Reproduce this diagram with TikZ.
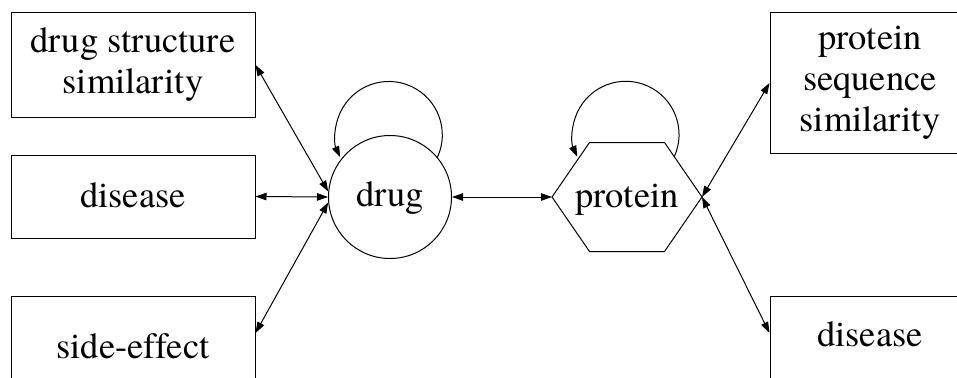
\documentclass[tikz,border=0pt]{standalone}
\usepackage{fontspec}
\newfontfamily\fa[Ligatures=NoCommon]{TeX Gyre Termes}
\usetikzlibrary{arrows.meta}
\begin{document}
\begin{tikzpicture}[x=1pt,y=-1pt,
  lw/.style={line width=1pt},
  txt/.style={font=\fa\fontsize{36.5}{41}\selectfont},
  box/.style={draw, lw, inner sep=0pt, align=center, txt},
  link/.style={lw, {Triangle[length=11pt,width=7.5pt]}-{Triangle[length=11pt,width=7.5pt]}},
  loopy/.style={lw, -{Triangle[length=11pt,width=7.5pt]}},
]
\useasboundingbox (0,0) rectangle (957,377);
\node[box, minimum width=244pt, minimum height=104pt] (dss) at (133,65) {drug structure\\similarity};
\node[box, minimum width=244pt, minimum height=83pt, text depth=3pt] (ldis) at (133,196.5) {disease};
\node[box, minimum width=244pt, minimum height=100pt] (se) at (133,346) {side-effect};
\node[box, minimum width=200pt, minimum height=140pt] (pss) at (870,83) {protein\\sequence\\similarity};
\node[box, minimum width=200pt, minimum height=84pt, text depth=7pt] (rdis) at (870,338) {disease};
\node[draw, lw, circle, minimum size=123pt, inner sep=0pt, txt, text depth=6pt] (drug) at (390,197) {drug};
\node[inner sep=0pt, txt, text depth=2pt] (protein) at (627,197) {protein};
\path (protein.center)
  +(-75,0) coordinate (pW)
  +(-37.5,-54.5) coordinate (pNW)
  +(37.5,-54.5) coordinate (pNE)
  +(75,0) coordinate (pE)
  +(37.5,54.5) coordinate (pSE)
  +(-37.5,54.5) coordinate (pSW)
  +(47.25,-40.3) coordinate (pLoop);
\draw[lw] (pW) -- (pNW) -- (pNE) -- (pE) -- (pSE) -- (pSW) -- cycle;
% self loops
\draw[loopy] (drug.40) arc[start angle=24.5, end angle=-204.5, radius=53.5];
\draw[loopy] (pLoop) arc[start angle=24.5, end angle=-204.5, radius=53.3];
% links
\draw[link] (dss.east) -- (drug.175);
\draw[link] (ldis.east) -- (drug.west);
\draw[link] ([yshift=13pt]se.east) -- (drug.185);
\draw[link] (drug.east) -- (pW);
\draw[link] (pE) -- (pss.west);
\draw[link] (pE) -- ([yshift=5pt]rdis.west);
\end{tikzpicture}
\end{document}
